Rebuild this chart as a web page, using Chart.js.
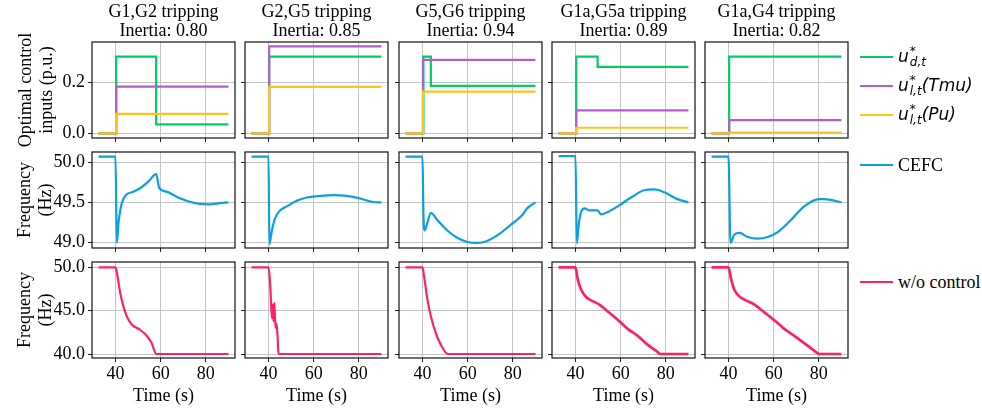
<!DOCTYPE html>
<html>
<head>
<meta charset="utf-8">
<script src="https://cdn.jsdelivr.net/npm/chart.js@4.4.1/dist/chart.umd.min.js"></script>
<style>
body { margin: 0; background: #fff; width: 982px; height: 415px; position: relative; overflow: hidden;
  font-family: "Liberation Serif", "Times New Roman", serif; color: #000; }
canvas { position: absolute; }
.t { position: absolute; text-align: center; font-size: 18px; line-height: 19px; white-space: nowrap; transform: translateX(-50%); }
.yl { position: absolute; text-align: center; font-size: 18px; line-height: 21px; white-space: nowrap;
  transform: translate(-50%, -50%) rotate(-90deg); }
.lg { position: absolute; left: 860px; width: 33px; height: 2.4px; }
.lt { position: absolute; left: 898px; font-size: 18px; line-height: 20px; white-space: nowrap; transform: translateY(-50%); }
.m { font-family: "DejaVu Sans", sans-serif; font-style: oblique; font-size: 17px; }
.ss { display: inline-flex; flex-direction: column; vertical-align: middle; font-size: 12px; line-height: 11px; margin-left: 1px; }
</style>
</head>
<body>
<script>
// panel titles
const cases = ['G1,G2 tripping', 'G2,G5 tripping', 'G5,G6 tripping', 'G1a,G5a tripping', 'G1a,G4 tripping'];
const inertia = ['0.80', '0.85', '0.94', '0.89', '0.82'];

// ticks
const xTicks = [40, 60, 80];
const yTicks = [[0, 0.2], [49.0, 49.5, 50.0], [40, 45, 50]];
const yRange = [[-0.018, 0.357], [48.933, 50.125], [39.54, 50.62]];
const xRange = [29.6, 92.9];

// optimal control inputs, change points [t, value]
const ud = [
  [[32.5, 0], [40.3, 0.3], [58, 0.035], [90, 0.035]],
  [[32.5, 0], [40.3, 0.3], [90, 0.3]],
  [[32.5, 0], [40.4, 0.3], [43.7, 0.186], [90, 0.186]],
  [[32.5, 0], [40.3, 0.3], [49.8, 0.26], [90, 0.26]],
  [[32.5, 0], [40.3, 0.3], [90, 0.3]]
];
const ulTmu = [
  [[32.5, 0], [40.3, 0.183], [90, 0.183]],
  [[32.5, 0], [40.3, 0.34], [90, 0.34]],
  [[32.5, 0], [40.2, 0.287], [90, 0.287]],
  [[32.5, 0], [40.3, 0.09], [90, 0.09]],
  [[32.5, 0], [40.3, 0.052], [90, 0.052]]
];
const ulPu = [
  [[32.5, 0], [40.3, 0.076], [90, 0.076]],
  [[32.5, 0], [40.3, 0.182], [90, 0.182]],
  [[32.5, 0], [40.2, 0.163], [90, 0.163]],
  [[32.5, 0], [40.3, 0.022], [90, 0.022]],
  [[32.5, 0], [40.3, 0.003], [90, 0.003]]
];

// frequency with CEFC [t, Hz]
const cefc = [
  [[32.5, 50.067], [40, 50.067], [40.6, 48.996], [41.3, 49.24], [42.8, 49.49], [45, 49.6], [47.2, 49.625], [50.9, 49.675],
   [54.6, 49.76], [58, 49.85], [59.4, 49.675], [62.6, 49.633], [67, 49.57], [71.5, 49.52], [77.4, 49.48], [81.8, 49.475], [86.2, 49.49], [90, 49.5]],
  [[32.5, 50.067], [40, 50.067], [40.4, 48.98], [41.5, 49.15], [42.9, 49.3], [45.1, 49.4], [48.1, 49.45], [52.5, 49.52],
   [56.9, 49.56], [62.8, 49.58], [68.7, 49.59], [74.6, 49.58], [80.4, 49.55], [86.3, 49.504], [90, 49.5]],
  [[32.5, 50.067], [40, 50.067], [40.4, 49.38], [40.9, 49.15], [41.9, 49.22], [43.7, 49.37], [46.6, 49.28], [51, 49.15],
   [55.4, 49.06], [59.9, 49.008], [63.5, 48.996], [67.2, 49.008], [73.1, 49.09], [79, 49.22], [84.1, 49.34], [86.3, 49.425], [90, 49.5]],
  [[32.5, 50.075], [40, 50.075], [40.6, 48.99], [41.5, 49.24], [42.5, 49.38], [44, 49.425], [46.2, 49.4], [49.85, 49.4],
   [51.3, 49.35], [54.3, 49.38], [58.7, 49.45], [64.6, 49.56], [70.4, 49.65], [74.9, 49.66], [79.3, 49.625], [85.1, 49.54], [90, 49.5]],
  [[32.5, 50.067], [40, 50.067], [40.9, 48.996], [42.6, 49.1], [44.85, 49.12], [48.5, 49.07], [52.9, 49.05], [57.35, 49.07],
   [61.8, 49.13], [67.6, 49.28], [73.5, 49.45], [80.1, 49.54], [82.4, 49.54], [90, 49.5]]
];

// frequency without control [t, Hz]
const noCtrl = [
  [[32.5, 50], [40, 50], [40.9, 48.96], [42.1, 47.04], [43.5, 45.5], [45, 44.35], [47.2, 43.4], [50.9, 42.8], [53.8, 42.1],
   [56, 41.27], [58, 40], [90, 40]],
  [[32.5, 50], [40, 50], [40.7, 48.2], [41, 46.65], [41.5, 44.15], [41.9, 45.7], [42.2, 43.8], [42.6, 45.9], [43.1, 43],
   [43.5, 43.5], [44, 42.2], [44.4, 40], [90, 40]],
  [[32.5, 50], [40, 50], [40.7, 48.96], [42.2, 46.27], [43.7, 44.35], [45.9, 42.4], [48.1, 41.08], [51.3, 40], [90, 40]],
  [[32.5, 50], [40, 50], [41, 48.58], [42.5, 47.42], [44.7, 46.58], [46.9, 46.2], [50.6, 45.7], [54.3, 44.9], [58.7, 43.96],
   [63.1, 42.9], [67.5, 42.1], [71.9, 41.08], [76.3, 40.23], [77.5, 40], [90, 40]],
  [[32.5, 50], [40, 50], [41.2, 48.58], [42.6, 47.42], [44.85, 46.65], [47.1, 46.27], [51.5, 45.7], [55.9, 44.8], [60.3, 43.9],
   [64.7, 42.9], [69.1, 42.1], [75, 40.96], [79.4, 40.1], [80, 40], [90, 40]]
];

const GREEN = '#00cc6a', PURPLE = '#b25ec6', YELLOW = '#ffc31e', BLUE = '#0aa0e2', PINK = '#ff2262';

const colLeft = [92, 245, 399, 552, 705];
const rowTop = [42, 152, 262];
const PW = 143, PH = 96;
const L = 50, T = 6, R = 6, B = 40;

const xy = pts => pts.map(p => ({ x: p[0], y: p[1] }));

const frame = {
  id: 'frame',
  afterDraw(chart) {
    const a = chart.chartArea, c = chart.ctx;
    c.save();
    c.strokeStyle = '#111';
    c.lineWidth = 1.2;
    c.strokeRect(a.left, a.top, a.right - a.left, a.bottom - a.top);
    c.restore();
  }
};

function panel(row, col, datasets) {
  const cv = document.createElement('canvas');
  cv.width = PW + L + R;
  cv.height = PH + T + B;
  cv.style.left = (colLeft[col] - L) + 'px';
  cv.style.top = (rowTop[row] - T) + 'px';
  document.body.appendChild(cv);
  const font = { family: 'Liberation Serif', size: 18 };
  const grid = { color: '#c4c4c4', lineWidth: 1, tickLength: 4, tickColor: '#222', tickWidth: 1 };
  new Chart(cv, {
    type: 'line',
    data: { datasets },
    options: {
      responsive: false,
      animation: false,
      layout: { padding: { top: T, right: R, left: 0, bottom: 0 } },
      plugins: { legend: { display: false }, tooltip: { enabled: false } },
      elements: { point: { radius: 0 } },
      scales: {
        x: {
          type: 'linear', min: xRange[0], max: xRange[1],
          afterBuildTicks: s => { s.ticks = xTicks.map(v => ({ value: v })); },
          afterFit: s => { s.height = B; s.paddingLeft = 0; s.paddingRight = 0; },
          ticks: { display: row === 2, font, color: '#000', padding: 1, maxRotation: 0, callback: v => v },
          grid, border: { display: false }
        },
        y: {
          type: 'linear', min: yRange[row][0], max: yRange[row][1],
          afterBuildTicks: s => { s.ticks = yTicks[row].map(v => ({ value: v })); },
          afterFit: s => { s.width = L; s.paddingTop = 0; s.paddingBottom = 0; },
          ticks: { display: col === 0, font, color: '#000', padding: 3, callback: v => v.toFixed(1) },
          grid, border: { display: false }
        }
      }
    },
    plugins: [frame]
  });
}

for (let c = 0; c < 5; c++) {
  panel(0, c, [
    { data: xy(ulPu[c]), borderColor: YELLOW, borderWidth: 2.2, stepped: true },
    { data: xy(ulTmu[c]), borderColor: PURPLE, borderWidth: 2.2, stepped: true },
    { data: xy(ud[c]), borderColor: GREEN, borderWidth: 2.2, stepped: true }
  ]);
  panel(1, c, [
    { data: xy(cefc[c]), borderColor: BLUE, borderWidth: 2.2, cubicInterpolationMode: 'monotone' }
  ]);
  panel(2, c, [
    { data: xy(noCtrl[c]), borderColor: PINK, borderWidth: c >= 3 ? 2.7 : 2.2, cubicInterpolationMode: 'monotone' }
  ]);

  const cx = colLeft[c] + PW / 2;
  const t = document.createElement('div');
  t.className = 't';
  t.style.left = cx + 'px';
  t.style.top = '2px';
  t.innerHTML = cases[c] + '<br>Inertia: ' + inertia[c];
  document.body.appendChild(t);

  const xl = document.createElement('div');
  xl.className = 't';
  xl.style.left = cx + 'px';
  xl.style.top = '386px';
  xl.textContent = 'Time (s)';
  document.body.appendChild(xl);
}

const yLabels = [['Optimal control', 'inputs (p.u.)'], ['Frequency', '(Hz)'], ['Frequency', '(Hz)']];
yLabels.forEach((lines, r) => {
  const d = document.createElement('div');
  d.className = 'yl';
  d.style.left = (r === 0 ? 36 : 35) + 'px';
  d.style.top = (rowTop[r] + PH / 2) + 'px';
  d.innerHTML = lines.join('<br>');
  document.body.appendChild(d);
});

// legend
const legend = [
  { y: 57, color: GREEN, html: '<span class="m">u<span class="ss"><span>*</span><span>d,t</span></span></span>' },
  { y: 86, color: PURPLE, html: '<span class="m">u<span class="ss"><span>*</span><span>l,t</span></span>(Tmu)</span>' },
  { y: 115, color: YELLOW, html: '<span class="m">u<span class="ss"><span>*</span><span>l,t</span></span>(Pu)</span>' },
  { y: 165, color: BLUE, html: 'CEFC' },
  { y: 282, color: PINK, html: 'w/o control' }
];
legend.forEach(e => {
  const l = document.createElement('div');
  l.className = 'lg';
  l.style.top = (e.y - 1.2) + 'px';
  l.style.background = e.color;
  document.body.appendChild(l);
  const tx = document.createElement('div');
  tx.className = 'lt';
  tx.style.top = e.y + 'px';
  tx.innerHTML = e.html;
  document.body.appendChild(tx);
});
</script>
</body>
</html>
